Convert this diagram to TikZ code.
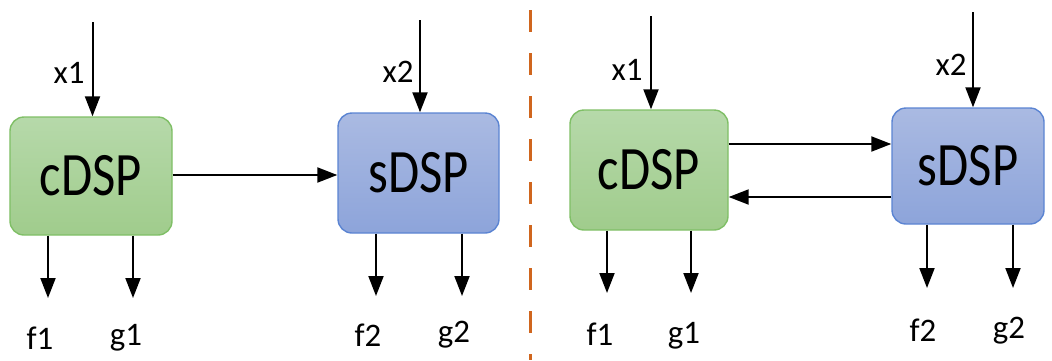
\documentclass[tikz,border=0pt]{standalone}
\usepackage{fontspec}
\setmainfont{Carlito}
\usetikzlibrary{arrows.meta}
\definecolor{gtop}{HTML}{B6D9AA}
\definecolor{gbot}{HTML}{A0CC8C}
\definecolor{gline}{HTML}{7FBF66}
\definecolor{btop}{HTML}{AABAE2}
\definecolor{bbot}{HTML}{8DA4DA}
\definecolor{bline}{HTML}{5B84D2}
\definecolor{divider}{HTML}{D0661E}
\tikzset{
  px/.style={x=1bp,y=-1bp},
  dspbox/.style={rounded corners=14bp, line width=1.4bp, inner sep=0pt,
    font=\fontsize{62}{62}\selectfont},
  cbox/.style={dspbox, draw=gline, top color=gtop, bottom color=gbot},
  sbox/.style={dspbox, draw=bline, top color=btop, bottom color=bbot},
  sig/.style={line width=2bp, -{Triangle[length=20bp,width=15bp]}},
  lbl/.style={font=\fontsize{33}{33}\selectfont, inner sep=0pt},
}
\newcommand{\boxtext}[1]{\scalebox{0.82}[1]{#1}}
\begin{document}
\begin{tikzpicture}[px]
\useasboundingbox (0,0) rectangle (1052,360);

% ---- left: one-way link ----
\node[cbox, minimum width=162bp, minimum height=118bp] (c1) at (91,176) {\boxtext{cDSP}};
\node[sbox, minimum width=161bp, minimum height=120bp] (s1) at (418.5,173) {\boxtext{sDSP}};

\coordinate (x1in) at (92.5,22);
\coordinate (x2in) at (420,20);
\draw[sig] (x1in) -- (x1in |- c1.north);
\draw[sig] (x2in) -- (x2in |- s1.north);
\node[lbl] (x1l) at (69,73) {x1};
\node[lbl] (x2l) at (398,72) {x2};

\draw[sig] (c1.east |- 0,175) -- (s1.west |- 0,175);

\coordinate (f1o) at (48,298);
\coordinate (g1o) at (133,298);
\coordinate (f2o) at (376,296);
\coordinate (g2o) at (462,296);
\draw[sig] (f1o |- c1.south) -- (f1o);
\draw[sig] (g1o |- c1.south) -- (g1o);
\draw[sig] (f2o |- s1.south) -- (f2o);
\draw[sig] (g2o |- s1.south) -- (g2o);
\node[lbl] (f1l) at (40,338) {f1};
\node[lbl] (g1l) at (126,338) {g1};
\node[lbl] (f2l) at (368,335) {f2};
\node[lbl] (g2l) at (454,335) {g2};

% ---- divider ----
\coordinate (dtop) at (530,0);
\coordinate (dbot) at (530,360);
\draw[divider, line width=3bp, dash pattern=on 22bp off 21bp, dash phase=-10bp] (dtop) -- (dbot);

% ---- right: two-way link ----
\node[cbox, minimum width=158bp, minimum height=120bp] (c2) at (649,170) {\boxtext{cDSP}};
\node[sbox, minimum width=152bp, minimum height=116bp] (s2) at (968,166) {\boxtext{sDSP}};

\coordinate (x1in2) at (651,16);
\coordinate (x2in2) at (973,12);
\draw[sig] (x1in2) -- (x1in2 |- c2.north);
\draw[sig] (x2in2) -- (x2in2 |- s2.north);
\node[lbl] (x1r) at (627,70) {x1};
\node[lbl] (x2r) at (951,65) {x2};

\draw[sig] (c2.east |- 0,144) -- (s2.west |- 0,144);
\draw[sig] (s2.west |- 0,197) -- (c2.east |- 0,197);

\coordinate (f1o2) at (607,293);
\coordinate (g1o2) at (691,293);
\coordinate (f2o2) at (927,288);
\coordinate (g2o2) at (1013,288);
\draw[sig] (f1o2 |- c2.south) -- (f1o2);
\draw[sig] (g1o2 |- c2.south) -- (g1o2);
\draw[sig] (f2o2 |- s2.south) -- (f2o2);
\draw[sig] (g2o2 |- s2.south) -- (g2o2);
\node[lbl] (f1r) at (600,334) {f1};
\node[lbl] (g1r) at (684,336) {g1};
\node[lbl] (f2r) at (923,330) {f2};
\node[lbl] (g2r) at (1009,331) {g2};
\end{tikzpicture}
\end{document}
